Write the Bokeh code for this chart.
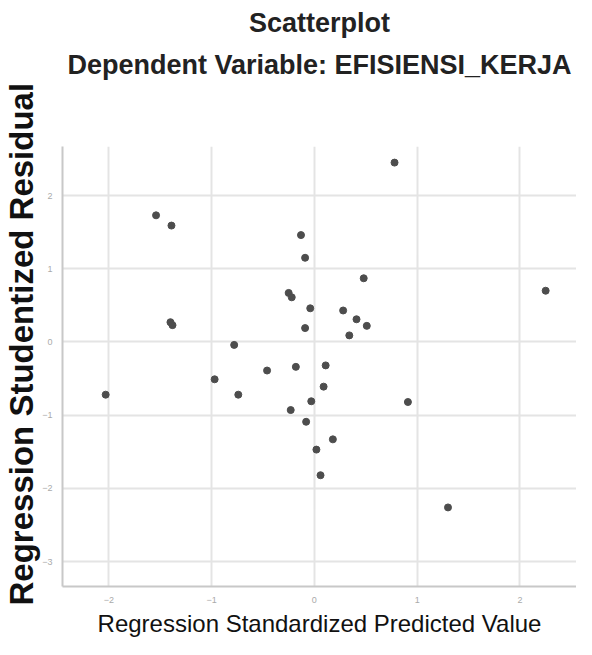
from bokeh.plotting import figure
from bokeh.models import Title, Range1d, FixedTicker
from bokeh.embed import file_html
from bokeh.resources import INLINE

pred = [-1.54, -1.39, -0.25, -0.22, -1.40, -1.38, -0.78, 0.78, -0.13, -0.09,
        0.48, -0.04, 0.28, 0.41, 0.51, -0.09, 0.34, 2.25, -0.18, 0.11,
        0.09, -0.03, -0.23, -0.08, 0.18, 0.02, 0.06, 0.91, 1.30, -2.03,
        -0.97, -0.74, -0.46]
resid = [1.73, 1.59, 0.67, 0.61, 0.27, 0.23, -0.04, 2.45, 1.46, 1.15,
         0.87, 0.46, 0.43, 0.31, 0.22, 0.19, 0.09, 0.70, -0.34, -0.32,
         -0.61, -0.81, -0.93, -1.09, -1.33, -1.47, -1.82, -0.82, -2.26, -0.72,
         -0.51, -0.72, -0.39]
x_ticks = [-2, -1, 0, 1, 2]
y_ticks = [-3, -2, -1, 0, 1, 2]

title_line1 = "Scatterplot"
title_line2 = "Dependent Variable: EFISIENSI_KERJA"
x_label = "Regression Standardized Predicted Value"
y_label = "Regression Studentized Residual"

FONT = "Liberation Sans"

p = figure(width=576, height=639, output_backend="svg", toolbar_location=None,
           x_range=Range1d(-2.45, 2.55), y_range=Range1d(-3.34, 2.67),
           min_border_left=0, min_border_right=0, min_border_top=0,
           min_border_bottom=0)

t1 = Title(text=title_line1, align="center", text_font=FONT,
           text_font_size="27px", text_font_style="bold", text_color="#222222",
           standoff=10, offset=-6)
t2 = Title(text=title_line2, align="center", text_font=FONT,
           text_font_size="27px", text_font_style="bold", text_color="#222222",
           standoff=10, offset=-6)
spacer = Title(text=" ", text_font_size="5px", standoff=54)
p.title = t1
p.above = [spacer, t2]

ty = Title(text=y_label, align="left", text_font=FONT,
           text_font_size="33px", text_font_style="bold", text_color="#111111",
           standoff=0, offset=-19)
p.add_layout(ty, "left")

p.outline_line_color = None
p.background_fill_color = "white"

for ax in (p.xaxis[0], p.yaxis[0]):
    ax.axis_line_color = "#c8c8c8"
    ax.axis_line_width = 2
    ax.major_tick_line_color = None
    ax.minor_tick_line_color = None
    ax.major_label_text_font_size = "9px"
    ax.major_label_text_color = "#aaaaaa"
    ax.major_label_standoff = 4

p.xaxis[0].ticker = FixedTicker(ticks=x_ticks)
p.yaxis[0].ticker = FixedTicker(ticks=y_ticks)
p.xaxis[0].axis_label = x_label
p.xaxis[0].axis_label_text_font = FONT
p.xaxis[0].axis_label_text_font_size = "24px"
p.xaxis[0].axis_label_text_font_style = "normal"
p.xaxis[0].axis_label_text_color = "#111111"
p.xaxis[0].axis_label_standoff = 4

p.xgrid.grid_line_color = "#e4e4e4"
p.ygrid.grid_line_color = "#e4e4e4"
p.xgrid.grid_line_width = 2
p.ygrid.grid_line_width = 2
p.xgrid.ticker = FixedTicker(ticks=x_ticks)
p.ygrid.ticker = FixedTicker(ticks=y_ticks)

p.scatter(pred, resid, size=7, color="#4d4d4d")

open("out.html", "w").write(file_html(p, INLINE))
